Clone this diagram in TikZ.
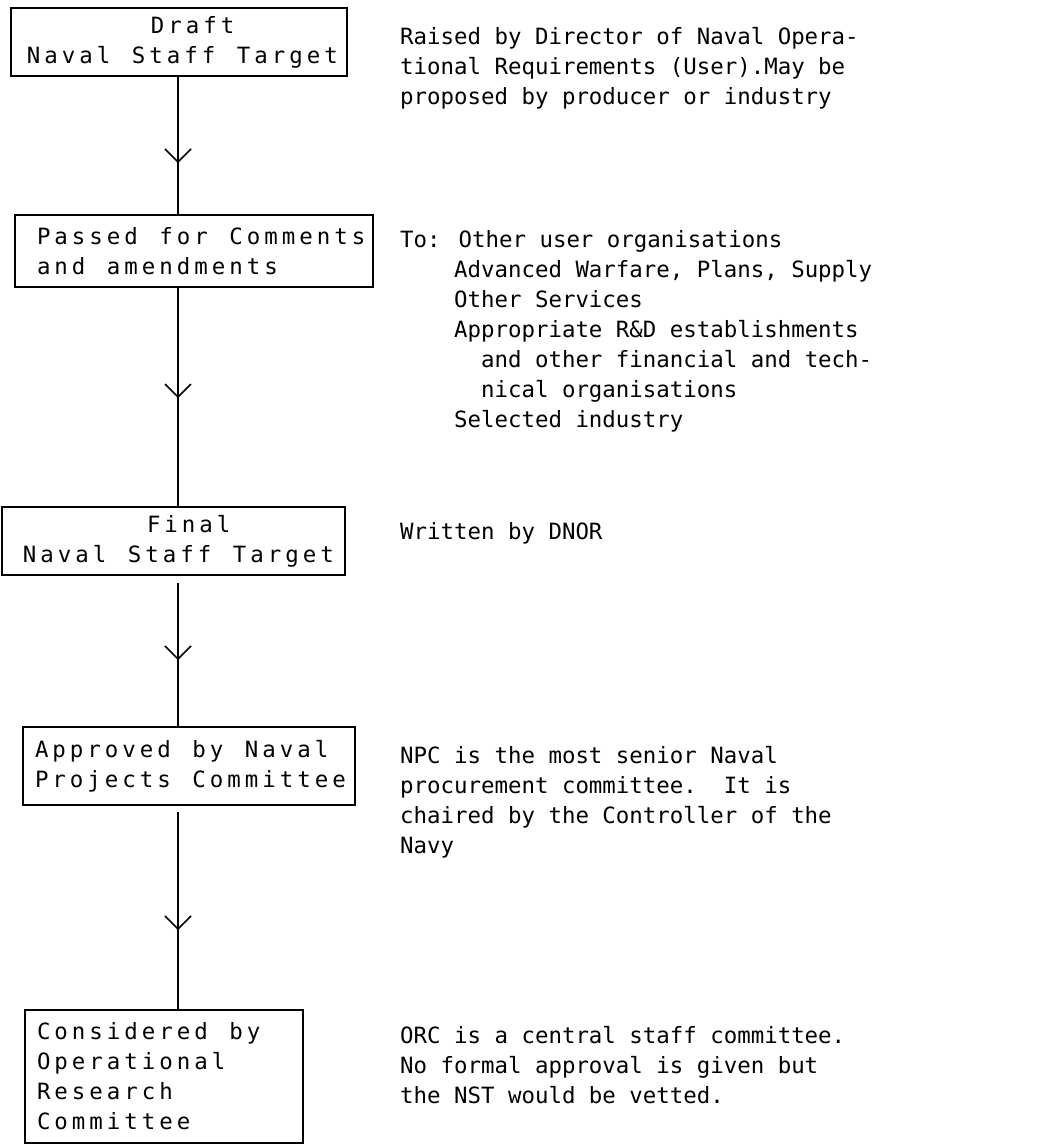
\documentclass[tikz,border=0pt]{standalone}
\usepackage{fontspec}
\newfontfamily\twfont{DejaVu Sans Mono}
\newfontfamily\twboxfont[LetterSpace=17.9]{DejaVu Sans Mono}
\newcommand\ws{\hspace*{21.5pt}}
\usetikzlibrary{arrows.meta,decorations.markings}
\tikzset{
  boxnode/.style={draw, line width=2pt, anchor=north west, align=left, outer sep=0pt,
    inner ysep=0pt, font=\twboxfont\fontsize{22.4pt}{30pt}\selectfont},
  note/.style={anchor=north west, inner sep=0pt, align=left,
    font=\twfont\fontsize{22.4pt}{30pt}\selectfont},
  conn/.style={line width=1.5pt,
    decoration={markings, mark=at position #1 with {\arrow{Straight Barb[length=13pt,width=26pt]}}},
    postaction={decorate}},
}
\begin{document}
\begin{tikzpicture}[x=1pt,y=-1pt]
\useasboundingbox[fill=white] (0,0) rectangle (1042,1146);

% boxes
\node[boxnode, minimum width=336pt, minimum height=68pt, inner xsep=16pt, text width=304pt] (B1) at (11,8)
  {\mbox{\hspace*{124pt}Draft}\\\mbox{Naval\ws Staff\ws Target}};
\node[boxnode, minimum width=358pt, minimum height=72pt, inner xsep=22pt, text width=314pt] (B2) at (15,215)
  {\mbox{Passed\ws for\ws Comments}\\\mbox{and\ws amendments}};
\node[boxnode, minimum width=343pt, minimum height=68pt, inner xsep=21pt, text width=301pt] (B3) at (2,507)
  {\mbox{\hspace*{124pt}Final}\\\mbox{Naval\ws Staff\ws Target}};
\node[boxnode, minimum width=332pt, minimum height=78pt, inner xsep=12pt, text width=308pt] (B4) at (23,727)
  {\mbox{Approved\ws by\ws Naval}\\\mbox{Projects\ws Committee}};
\node[boxnode, minimum width=278pt, minimum height=133pt, inner xsep=12pt, text width=254pt] (B5) at (25,1010)
  {\mbox{Considered\ws by}\\\mbox{Operational}\\\mbox{Research}\\\mbox{Committee}};

% notes
\node[note] (N1) at (400,27)
  {Raised by Director of Naval Opera-\\tional Requirements (User).May be\\proposed by producer or industry};
\node[note] (N2) at (400,230)
  {To: Other user organisations\\
   \phantom{xxxx}Advanced Warfare, Plans, Supply\\
   \phantom{xxxx}Other Services\\
   \phantom{xxxx}Appropriate R\&D establishments\\
   \phantom{xxxxxx}and other financial and tech-\\
   \phantom{xxxxxx}nical organisations\\
   \phantom{xxxx}Selected industry};
\node[note] (N3) at (400,522) {Written by DNOR};
\node[note] (N4) at (400,746)
  {NPC is the most senior Naval\\procurement committee.\ \ It is\\chaired by the Controller of the\\Navy};
\node[note] (N5) at (400,1026)
  {ORC is a central staff committee.\\No formal approval is given but\\the NST would be vetted.};

% connectors
\coordinate (ax) at (178,0);
\path ([yshift=-8pt]B3.south) coordinate (s3);
\path ([yshift=-7pt]B4.south) coordinate (s4);
\draw[conn=0.626] (B1.south -| ax) -- (B2.north -| ax);
\draw[conn=0.505] (B2.south -| ax) -- (B3.north -| ax);
\draw[conn=0.535] (s3 -| ax) -- (B4.north -| ax);
\draw[conn=0.596] (s4 -| ax) -- (B5.north -| ax);
\end{tikzpicture}
\end{document}
